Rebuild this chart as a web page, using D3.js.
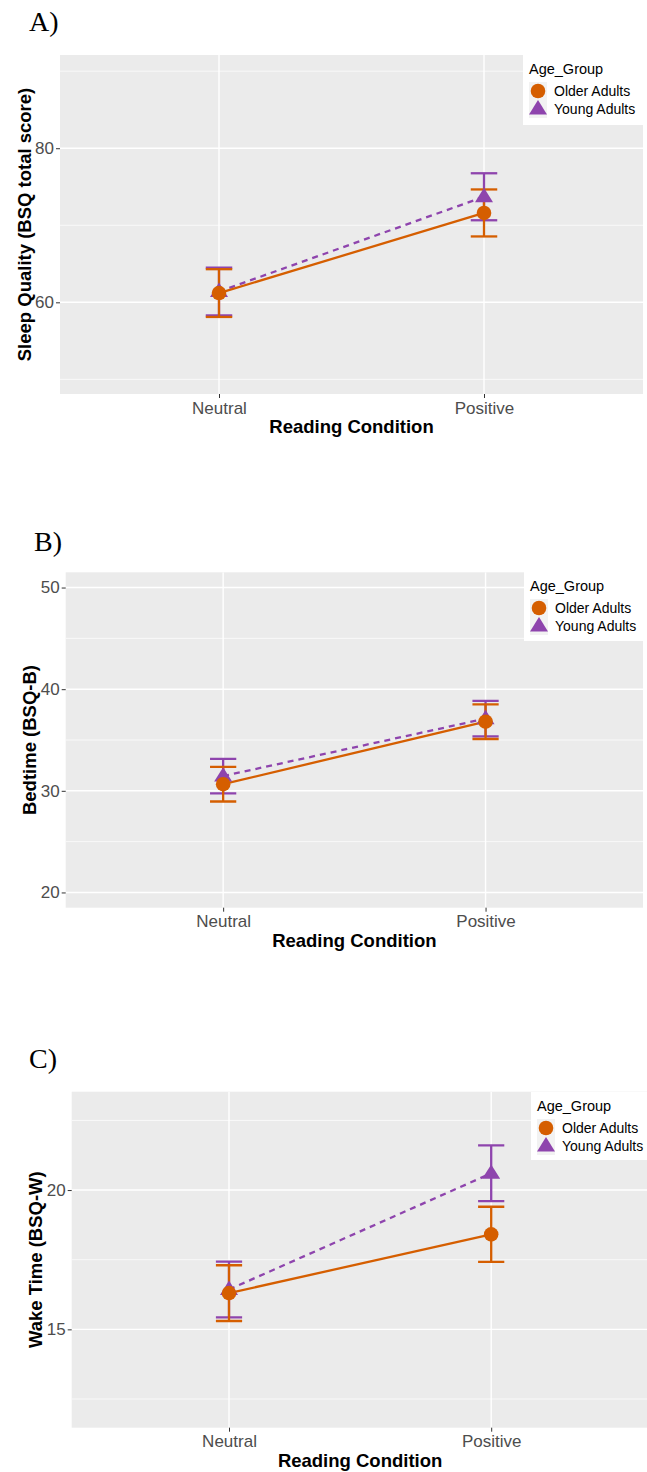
<!DOCTYPE html>
<html>
<head>
<meta charset="utf-8">
<script src="https://cdn.jsdelivr.net/npm/d3@7"></script>
<style>
  html, body { margin: 0; padding: 0; background: #fff; }
  svg { display: block; }
</style>
</head>
<body>
<svg id="chart" width="647" height="1472"></svg>
<script>
// ---------------- DATA ----------------
const conditions = ["Neutral", "Positive"];
const groups = ["Older Adults", "Young Adults"];

// Panel A: Sleep Quality (BSQ total score)
const sleepOlderMean = [61.2, 71.6];
const sleepOlderSE   = [3.1, 3.05];
const sleepYoungMean = [61.4, 73.7];
const sleepYoungSE   = [3.1, 3.05];
const sleepMajorTicks = [60, 80];
const sleepMinorTicks = [50, 70, 90];

// Panel B: Bedtime (BSQ-B)
const bedOlderMean = [30.65, 36.8];
const bedOlderSE   = [1.7, 1.7];
const bedYoungMean = [31.45, 37.1];
const bedYoungSE   = [1.7, 1.75];
const bedMajorTicks = [20, 30, 40, 50];
const bedMinorTicks = [25, 35, 45];

// Panel C: Wake Time (BSQ-W)
const wakeOlderMean = [16.3, 18.41];
const wakeOlderSE   = [1.0, 0.99];
const wakeYoungMean = [16.43, 20.6];
const wakeYoungSE   = [1.0, 1.0];
const wakeMajorTicks = [15, 20];
const wakeMinorTicks = [12.5, 17.5, 22.5];

const panelLetters = ["A)", "B)", "C)"];
const yTitles = ["Sleep Quality (BSQ total score)", "Bedtime (BSQ-B)", "Wake Time (BSQ-W)"];
const xTitle = "Reading Condition";
const legendTitle = "Age_Group";

// ---------------- STYLE / LAYOUT ----------------
const colors = { "Older Adults": "#D55E00", "Young Adults": "#8E44AD" };

const panels = [
  { letter: panelLetters[0], yTitle: yTitles[0],
    older: sleepOlderMean, olderSE: sleepOlderSE, young: sleepYoungMean, youngSE: sleepYoungSE,
    major: sleepMajorTicks, minor: sleepMinorTicks,
    domain: [48.1, 92.1], left: 60, right: 643, top: 55, bottom: 394,
    letterX: 29, letterY: 31, yTitleX: 24,
    legend: { x: 523, y: 55, w: 120, h: 70 } },
  { letter: panelLetters[1], yTitle: yTitles[1],
    older: bedOlderMean, olderSE: bedOlderSE, young: bedYoungMean, youngSE: bedYoungSE,
    major: bedMajorTicks, minor: bedMinorTicks,
    domain: [18.5, 51.5], left: 65.7, right: 643, top: 572.3, bottom: 907.7,
    letterX: 34, letterY: 551, yTitleX: 29,
    legend: { x: 524, y: 572, w: 119, h: 69 } },
  { letter: panelLetters[2], yTitle: yTitles[2],
    older: wakeOlderMean, olderSE: wakeOlderSE, young: wakeYoungMean, youngSE: wakeYoungSE,
    major: wakeMajorTicks, minor: wakeMinorTicks,
    domain: [11.47, 23.53], left: 71.7, right: 648.5, top: 1091.7, bottom: 1427.7,
    letterX: 29, letterY: 1068, yTitleX: 35,
    legend: { x: 531, y: 1092, w: 120, h: 68 } }
];

const svg = d3.select("#chart");
const sansFont = "'Liberation Sans', Arial, Helvetica, sans-serif";

function trianglePath(s) {
  const h = s * 1.6;
  return `M0,${-h * 0.62}L${s},${h * 0.38}L${-s},${h * 0.38}Z`;
}

panels.forEach((p) => {
  const g = svg.append("g");

  const x = d3.scalePoint().domain(conditions).range([p.left, p.right]).padding(0.6);
  const y = d3.scaleLinear().domain(p.domain).range([p.bottom, p.top]);
  const unit = x.step();

  g.append("text").attr("x", p.letterX).attr("y", p.letterY)
    .attr("font-family", "'Liberation Serif', 'Times New Roman', serif")
    .attr("font-size", 28).attr("fill", "#000").text(p.letter);

  g.append("rect").attr("x", p.left).attr("y", p.top)
    .attr("width", p.right - p.left).attr("height", p.bottom - p.top)
    .attr("fill", "#EBEBEB");

  const clipId = "clip" + p.letter[0];
  svg.append("clipPath").attr("id", clipId).append("rect")
    .attr("x", p.left).attr("y", p.top)
    .attr("width", p.right - p.left).attr("height", p.bottom - p.top);

  const inner = g.append("g").attr("clip-path", `url(#${clipId})`);

  inner.selectAll(".minor").data(p.minor).enter().append("line")
    .attr("x1", p.left).attr("x2", p.right)
    .attr("y1", d => y(d)).attr("y2", d => y(d))
    .attr("stroke", "#fff").attr("stroke-width", 0.7);
  inner.selectAll(".major").data(p.major).enter().append("line")
    .attr("x1", p.left).attr("x2", p.right)
    .attr("y1", d => y(d)).attr("y2", d => y(d))
    .attr("stroke", "#fff").attr("stroke-width", 1.4);
  inner.selectAll(".vmajor").data(conditions).enter().append("line")
    .attr("x1", d => x(d)).attr("x2", d => x(d))
    .attr("y1", p.top).attr("y2", p.bottom)
    .attr("stroke", "#fff").attr("stroke-width", 1.4);

  const yAxis = d3.axisLeft(y).tickValues(p.major).tickSize(4).tickPadding(2).tickFormat(d3.format("d"));
  const ya = g.append("g").attr("transform", `translate(${p.left},0)`).call(yAxis);
  ya.select(".domain").remove();
  ya.selectAll("line").attr("stroke", "#333").attr("stroke-width", 1);
  ya.selectAll("text").attr("font-family", sansFont).attr("font-size", 17).attr("fill", "#4D4D4D");

  const xAxis = d3.axisBottom(x).tickSize(4).tickPadding(2);
  const xa = g.append("g").attr("transform", `translate(0,${p.bottom})`).call(xAxis);
  xa.select(".domain").remove();
  xa.selectAll("line").attr("stroke", "#333").attr("stroke-width", 1);
  xa.selectAll("text").attr("font-family", sansFont).attr("font-size", 17).attr("fill", "#4D4D4D")
    .attr("dy", "0.8em");

  g.append("text")
    .attr("x", (p.left + p.right) / 2)
    .attr("y", p.bottom + 39)
    .attr("text-anchor", "middle").attr("font-family", sansFont)
    .attr("font-weight", "bold").attr("font-size", 18.5).attr("fill", "#000")
    .text(xTitle);

  g.append("text")
    .attr("transform", `translate(${p.yTitleX},${(p.top + p.bottom) / 2}) rotate(-90)`)
    .attr("text-anchor", "middle").attr("dominant-baseline", "central")
    .attr("font-family", sansFont).attr("font-weight", "bold").attr("font-size", 18.5)
    .attr("fill", "#000").text(p.yTitle);

  const series = [
    { name: groups[1], mean: p.young, se: p.youngSE, dash: "6,5" },
    { name: groups[0], mean: p.older, se: p.olderSE, dash: null }
  ];

  const capHalf = unit * 0.05;
  series.forEach(s => {
    const col = colors[s.name];
    conditions.forEach((c, i) => {
      const cx = x(c), lo = y(s.mean[i] - s.se[i]), hi = y(s.mean[i] + s.se[i]);
      inner.append("line").attr("x1", cx).attr("x2", cx).attr("y1", lo).attr("y2", hi)
        .attr("stroke", col).attr("stroke-width", 2.3);
      [lo, hi].forEach(yy => inner.append("line")
        .attr("x1", cx - capHalf).attr("x2", cx + capHalf).attr("y1", yy).attr("y2", yy)
        .attr("stroke", col).attr("stroke-width", 2.3));
    });
  });

  series.forEach(s => {
    const line = d3.line().x((d, i) => x(conditions[i])).y(d => y(d));
    inner.append("path").datum(s.mean).attr("d", line)
      .attr("fill", "none").attr("stroke", colors[s.name]).attr("stroke-width", 2.3)
      .attr("stroke-dasharray", s.dash);
  });

  series.forEach(s => {
    conditions.forEach((c, i) => {
      if (s.name === groups[0]) {
        inner.append("circle").attr("cx", x(c)).attr("cy", y(s.mean[i])).attr("r", 7.3)
          .attr("fill", colors[s.name]);
      } else {
        inner.append("path").attr("d", trianglePath(9))
          .attr("transform", `translate(${x(c)},${y(s.mean[i])})`)
          .attr("fill", colors[s.name]);
      }
    });
  });

  const L = p.legend;
  const lg = g.append("g");
  lg.append("rect").attr("x", L.x).attr("y", L.y).attr("width", L.w).attr("height", L.h).attr("fill", "#fff");
  lg.append("text").attr("x", L.x + 6).attr("y", L.y + 19)
    .attr("font-family", sansFont).attr("font-size", 14.5).attr("fill", "#000").text(legendTitle);
  const keyX = L.x + 6, keyY = L.y + 27, keyS = 18;
  lg.append("rect").attr("x", keyX).attr("y", keyY).attr("width", keyS).attr("height", keyS * 2)
    .attr("fill", "#F2F2F2");
  groups.forEach((gr, j) => {
    const cy = keyY + keyS * j + keyS / 2;
    if (j === 0) {
      lg.append("circle").attr("cx", keyX + keyS / 2).attr("cy", cy).attr("r", 7.3).attr("fill", colors[gr]);
    } else {
      lg.append("path").attr("d", trianglePath(9))
        .attr("transform", `translate(${keyX + keyS / 2},${cy})`).attr("fill", colors[gr]);
    }
    lg.append("text").attr("x", keyX + keyS + 7).attr("y", cy)
      .attr("dominant-baseline", "central")
      .attr("font-family", sansFont).attr("font-size", 14).attr("fill", "#000").text(gr);
  });
});
</script>
</body>
</html>
